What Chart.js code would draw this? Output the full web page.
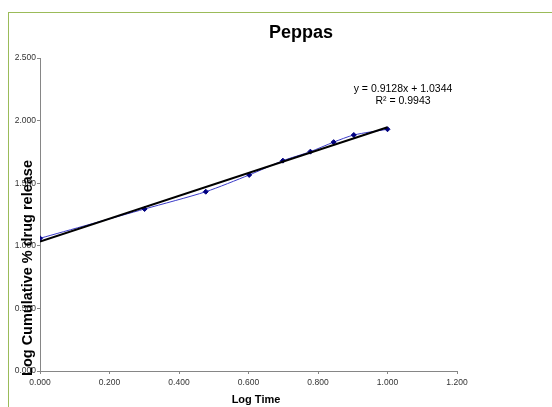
<!DOCTYPE html>
<html>
<head>
    <meta charset="UTF-8" />
    <title>Peppas</title>
    <script src="https://cdn.jsdelivr.net/npm/chart.js@4.4.1/dist/chart.umd.min.js"></script>
    <style>
        body {
            margin: 0;
            background-color: white;
            font-family: "Liberation Sans", Arial, sans-serif;
            overflow: hidden;
        }
        #frame {
            position: absolute;
            left: 8px;
            top: 12px;
            width: 544px;
            height: 395px;
            border-left: 1px solid #9bbb59;
            border-top: 1px solid #9bbb59;
        }
    </style>
</head>
<body>
    <div id="frame">
        <canvas id="peppasChart" width="543" height="394"></canvas>
    </div>

    <script>
        // log time vs log cumulative % drug release
        var logTime = [0, 0.301, 0.477, 0.602, 0.699, 0.778, 0.845, 0.903, 1.000];
        var logRelease = [1.060, 1.294, 1.432, 1.566, 1.680, 1.752, 1.828, 1.885, 1.931];

        // linear trendline as printed on the chart
        var slope = 0.9128;
        var intercept = 1.0344;
        var rSquared = 0.9943;

        var xTicks = [0, 0.2, 0.4, 0.6, 0.8, 1.0, 1.2];
        var yTicks = [0, 0.5, 1.0, 1.5, 2.0, 2.5];

        var FONT = "'Liberation Sans', Arial, sans-serif";

        var points = logTime.map(function (x, i) { return { x: x, y: logRelease[i] }; });
        var xFirst = logTime[0];
        var xLast = logTime[logTime.length - 1];
        var trend = [
            { x: xFirst, y: slope * xFirst + intercept },
            { x: xLast, y: slope * xLast + intercept }
        ];

        // titles and equation text, drawn on top like excel does
        var textPlugin = {
            id: 'texts',
            afterDraw: function (chart) {
                var ctx = chart.ctx;
                ctx.save();
                ctx.fillStyle = '#000';
                ctx.textAlign = 'center';

                ctx.font = 'bold 18px ' + FONT;
                ctx.textBaseline = 'alphabetic';
                ctx.fillText('Peppas', 292, 25);

                ctx.textBaseline = 'middle';
                ctx.font = '10.5px ' + FONT;
                ctx.fillText('y = ' + slope + 'x + ' + intercept, 394, 76);
                ctx.fillText('R\u00B2 = ' + rSquared, 394, 88);

                ctx.font = 'bold 11px ' + FONT;
                ctx.fillText('Log Time', 247, 387);

                ctx.translate(19, 255);
                ctx.rotate(-Math.PI / 2);
                ctx.font = 'bold 14.5px ' + FONT;
                ctx.fillText('Log Cumulative % drug release', 0, 0);
                ctx.restore();
            }
        };

        var axisGrey = '#868686';

        var chart = new Chart('peppasChart', {
            type: 'line',
            data: {
                datasets: [{
                    data: trend,
                    borderColor: '#000',
                    borderWidth: 2,
                    pointRadius: 0,
                    fill: false
                }, {
                    data: points,
                    borderColor: '#3a3ac8',
                    borderWidth: 1,
                    tension: 0.25,
                    pointStyle: 'rectRot',
                    pointRadius: 2.5,
                    pointBackgroundColor: '#000080',
                    pointBorderColor: '#000080',
                    fill: false
                }]
            },
            options: {
                responsive: false,
                animation: false,
                layout: { padding: { left: 0, top: 45, right: 95, bottom: 0 } },
                plugins: {
                    legend: { display: false },
                    tooltip: { enabled: false },
                    title: { display: false }
                },
                scales: {
                    x: {
                        type: 'linear',
                        min: xTicks[0],
                        max: xTicks[xTicks.length - 1],
                        afterBuildTicks: function (s) {
                            s.ticks = xTicks.map(function (v) { return { value: v }; });
                        },
                        afterFit: function (s) { s.height = 36; },
                        ticks: {
                            padding: 4,
                            maxRotation: 0,
                            autoSkip: false,
                            color: '#333',
                            font: { family: FONT, size: 8.5 },
                            callback: function (v) { return v.toFixed(3); }
                        },
                        grid: { drawOnChartArea: false, tickLength: 3, color: axisGrey },
                        border: { color: axisGrey }
                    },
                    y: {
                        min: yTicks[0],
                        max: yTicks[yTicks.length - 1],
                        afterBuildTicks: function (s) {
                            s.ticks = yTicks.map(function (v) { return { value: v }; });
                        },
                        afterFit: function (s) { s.width = 31; },
                        ticks: {
                            padding: 1,
                            autoSkip: false,
                            color: '#333',
                            font: { family: FONT, size: 8.5 },
                            callback: function (v) { return v.toFixed(3); }
                        },
                        grid: { drawOnChartArea: false, tickLength: 3, color: axisGrey },
                        border: { color: axisGrey }
                    }
                }
            },
            plugins: [textPlugin]
        });
    </script>
</body>
</html>
